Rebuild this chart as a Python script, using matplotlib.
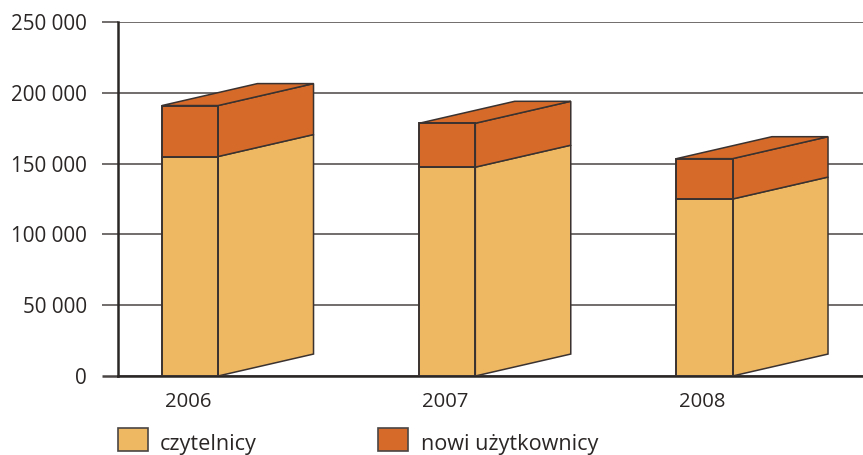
import matplotlib
matplotlib.use('Agg')
import matplotlib.pyplot as plt
from matplotlib.patches import Polygon, Rectangle

years = ['2006', '2007', '2008']
czytelnicy = [155000, 147500, 125000]
nowi_uzytkownicy = [36000, 31000, 28500]
y_ticks = [0, 50000, 100000, 150000, 200000, 250000]
y_tick_labels = ['0', '50 000', '100 000', '150 000', '200 000', '250 000']
legend_names = ['czytelnicy', 'nowi użytkownicy']

COL_LOW = '#EEB762'
COL_TOP = '#D66B29'
COL_EDGE = '#3A3230'
COL_TEXT = '#2B2626'

plt.rcParams['font.family'] = ['Open Sans', 'DejaVu Sans']

W, H = 863, 455
fig = plt.figure(figsize=(W / 100, H / 100), dpi=100)
ax = fig.add_axes([117.5 / W, (H - 376) / H, 745.5 / W, 354 / H])
ax.set_xlim(-0.173, 2.725)
ax.set_ylim(0, 250000)

bar_w = 0.218
depth_x = 0.371
depth_y = 15500


def draw_box(x, y0, y1, color, top=False):
    # front face, side face and (optionally) the top of one block
    xr = x + bar_w
    ax.add_patch(Polygon([(x, y0), (xr, y0), (xr, y1), (x, y1)], closed=True,
                         fc=color, ec=COL_EDGE, lw=1.4, zorder=4))
    ax.add_patch(Polygon([(xr, y0), (xr + depth_x, y0 + depth_y),
                          (xr + depth_x, y1 + depth_y), (xr, y1)], closed=True,
                         fc=color, ec=COL_EDGE, lw=1.1, zorder=3))
    if top:
        ax.add_patch(Polygon([(x, y1), (xr, y1), (xr + depth_x, y1 + depth_y),
                              (x + depth_x, y1 + depth_y)], closed=True,
                             fc=color, ec=COL_EDGE, lw=1.1, zorder=3))


for i in range(len(years)):
    low = czytelnicy[i]
    high = low + nowi_uzytkownicy[i]
    draw_box(i, 0, low, COL_LOW)
    draw_box(i, low, high, COL_TOP, top=True)

ax.set_yticks(y_ticks)
ax.set_yticklabels(y_tick_labels)
ax.set_xticks([i + bar_w / 2 - 0.008 for i in range(len(years))])
ax.set_xticklabels(years)
ax.tick_params(axis='y', length=11.5, width=1.1, color='#4A4545', pad=10.5,
               labelsize=14.9, labelcolor=COL_TEXT)
ax.tick_params(axis='x', length=0, pad=11.5, labelsize=14.6, labelcolor=COL_TEXT)
ax.yaxis.get_major_ticks()[0].tick1line.set_color(COL_TEXT)
ax.yaxis.get_major_ticks()[0].tick1line.set_markeredgewidth(1.8)
ax.grid(axis='y', color='#4A4545', lw=1.1, zorder=1)
ax.set_axisbelow(True)

for s in ['top', 'right']:
    ax.spines[s].set_visible(False)
for s in ['left', 'bottom']:
    ax.spines[s].set_color(COL_TEXT)
    ax.spines[s].set_linewidth(1.8)

# legend is laid out by hand, the boxes sit far apart in the original
for name, col, bx, tx in zip(legend_names, [COL_LOW, COL_TOP], [118, 378], [160, 421]):
    fig.add_artist(Rectangle((bx / W, (H - 451) / H), 30 / W, 23 / H, transform=fig.transFigure,
                             fc=col, ec='#4A4545', lw=1.2))
    fig.text(tx / W, (H - 450) / H, name, fontsize=15.6, color=COL_TEXT, ha='left', va='baseline')

fig.savefig('out.png', dpi=100)
